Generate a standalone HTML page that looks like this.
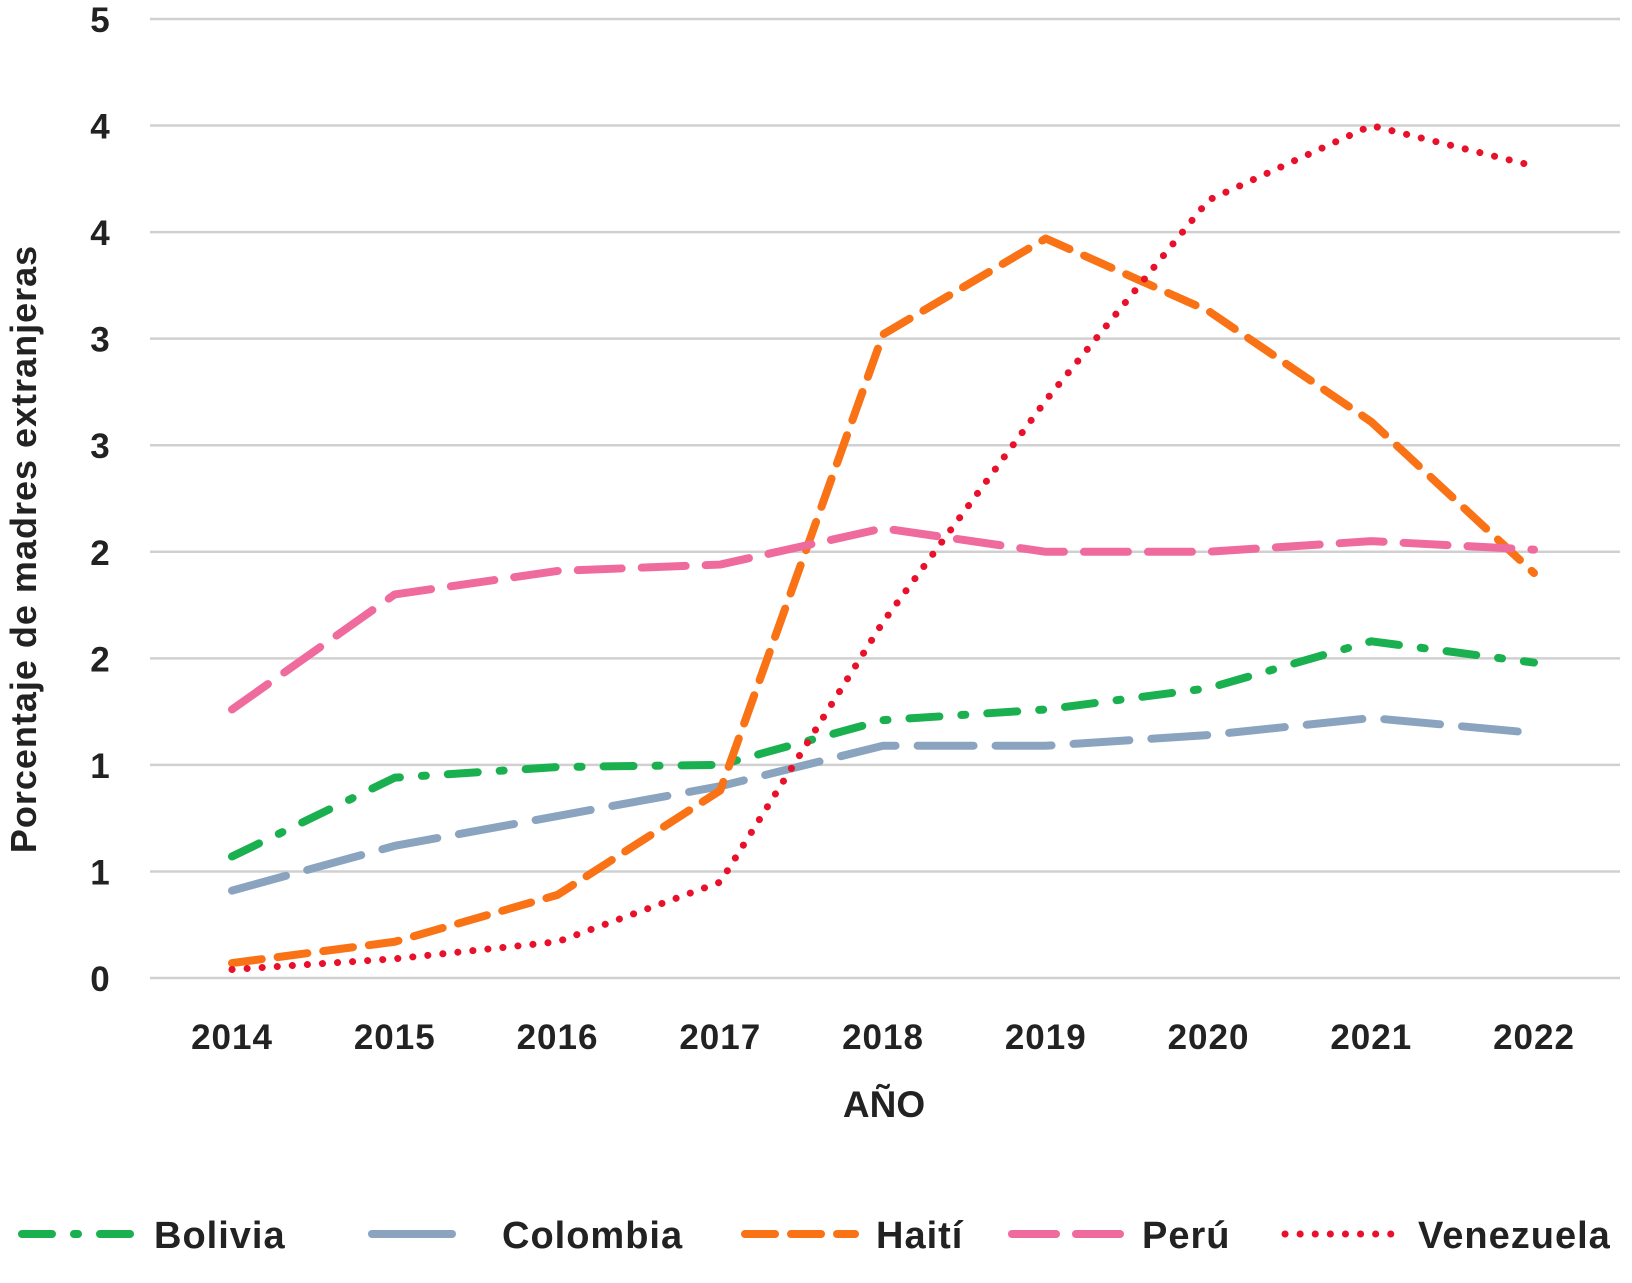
<!DOCTYPE html>
<html><head><meta charset="utf-8"><style>
html,body{margin:0;padding:0;background:#fff;}
svg text{font-family:"Liberation Sans",sans-serif;font-weight:bold;fill:#222;}
</style></head><body>
<svg id="chart" width="1632" height="1278" viewBox="0 0 1632 1278" xmlns="http://www.w3.org/2000/svg">
<g id="grid"></g>
<g id="yt"></g>
<g id="xt"></g>
<g id="series"></g>
<text transform="translate(36,549) rotate(-90)" text-anchor="middle" font-size="36" letter-spacing="1">Porcentaje de madres extranjeras</text>
<text x="884" y="1117" text-anchor="middle" font-size="37">AÑO</text>
<g id="legend"></g>
</svg>
<script>
const years=[2014,2015,2016,2017,2018,2019,2020,2021,2022];
const yTickValues=[0,0.5,1,1.5,2,2.5,3,3.5,4,4.5];
const yTickLabels=["0","1","1","2","2","3","3","4","4","5"];
const bolivia=[0.57,0.94,0.99,1.0,1.21,1.26,1.36,1.58,1.48];
const colombia=[0.41,0.62,0.76,0.90,1.09,1.09,1.14,1.22,1.15];
const haiti=[0.07,0.17,0.39,0.88,3.02,3.47,3.13,2.61,1.90];
const peru=[1.26,1.80,1.91,1.94,2.11,2.0,2.0,2.05,2.01];
const venezuela=[0.04,0.09,0.17,0.45,1.67,2.71,3.65,4.0,3.81];
const seriesNames=["Bolivia","Colombia","Haití","Perú","Venezuela"];

const NS="http://www.w3.org/2000/svg";
const x0=232,x1=1534,yBase=978,yTop=19,yMax=4.5;
const xs=i=>x0+(x1-x0)*i/(years.length-1);
const ys=v=>yBase-(yBase-yTop)*v/yMax;
function mk(tag,attrs,parent){const e=document.createElementNS(NS,tag);for(const k in attrs)e.setAttribute(k,attrs[k]);parent.appendChild(e);return e;}
const grid=document.getElementById('grid'),yt=document.getElementById('yt'),xt=document.getElementById('xt');
yTickValues.forEach((v,i)=>{
  const l=mk('line',{x1:150,x2:1620,y1:ys(v),y2:ys(v),stroke:'#d0d0d0','stroke-width':2.5},grid);
  
  
  const t=mk('text',{x:100,y:ys(v)+13,'text-anchor':'middle','font-size':35},yt);
  t.textContent=yTickLabels[i];
  
  
});
years.forEach((yr,i)=>{
  const t=mk('text',{x:xs(i),y:1049,'text-anchor':'middle','font-size':35,'letter-spacing':1},xt);
  t.textContent=yr;
  
  
});
const styles=[
 {data:bolivia,color:'#1bb04f',dash:'30 22 4 22',cap:'round',name:'bolivia-line'},
 {data:colombia,color:'#8aa4c0',dash:'56 22',cap:'round',name:'colombia-line'},
 {data:haiti,color:'#f97316',dash:'30 16',cap:'round',name:'haiti-line'},
 {data:peru,color:'#f06b9d',dash:'44 20',cap:'round',name:'peru-line'},
 {data:venezuela,color:'#e8102a',dash:'0.1 15',cap:'round',name:'venezuela-line'}];
const sg=document.getElementById('series');
styles.forEach(s=>{
  const d=s.data.map((v,i)=>(i?'L':'M')+xs(i)+','+ys(v)).join(' ');
  const p=mk('path',{d:d,fill:'none',stroke:s.color,'stroke-width':s.name==='venezuela-line'?7:8,'stroke-dasharray':s.dash,'stroke-linecap':s.cap,'stroke-linejoin':'round'},sg);
  
  
});
const lg=document.getElementById('legend');
const lx=[22,372,745,1012,1285];
const tx=[154,502,876,1142,1418];
styles.forEach((s,i)=>{
  const sw=mk('line',{x1:lx[i],x2:lx[i]+(i===1?80:110),y1:1234,y2:1234,stroke:s.color,'stroke-width':s.name==='venezuela-line'?7:8,'stroke-dasharray':i===1?'none':s.dash,'stroke-linecap':s.cap},lg);
  
  
  const t=mk('text',{x:tx[i],y:1248,'font-size':38,'letter-spacing':1},lg);
  t.textContent=seriesNames[i];
  
  
});
</script>
</body></html>
